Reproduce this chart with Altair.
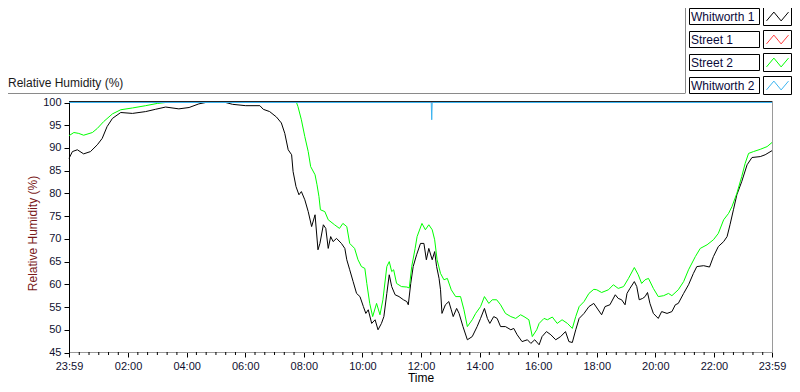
import altair as alt
import pandas as pd

# ---------------- data ----------------
series_names = ["Whitworth 1", "Street 1", "Street 2", "Whitworth 2"]
series_colors = ["#000000", "#ff3c3c", "#00ff00", "#3cb4f0"]

w1_times = ["23:59", "00:06", "00:16", "00:29", "00:43", "00:57", "01:07", "01:17", "01:28", "01:45",
            "02:09", "02:36", "02:56", "03:17", "03:44", "04:05", "04:25", "04:39", "05:20", "05:34",
            "06:01", "06:30", "06:37", "06:50", "07:04", "07:14", "07:21", "07:28", "07:35", "07:38",
            "07:44", "07:50", "07:55", "08:02", "08:09", "08:16", "08:23", "08:29", "08:33", "08:40",
            "08:45", "08:50", "08:55", "09:00", "09:07", "09:17", "09:24", "09:28", "09:34", "09:41",
            "09:48", "09:55", "10:02", "10:07", "10:12", "10:19", "10:26", "10:32", "10:39", "10:44",
            "10:50", "10:55", "11:00", "11:07", "11:15", "11:24", "11:31", "11:34", "11:39", "11:44",
            "11:51", "11:59", "12:06", "12:11", "12:16", "12:23", "12:28", "12:32", "12:37", "12:40",
            "12:43", "12:50", "12:57", "13:02", "13:06", "13:13", "13:18", "13:26", "13:35", "13:45",
            "13:55", "14:02", "14:10", "14:16", "14:21", "14:29", "14:36", "14:43", "14:53", "15:04",
            "15:10", "15:17", "15:27", "15:38", "15:45", "15:53", "16:02", "16:08", "16:17", "16:26",
            "16:36", "16:46", "16:56", "17:03", "17:10", "17:17", "17:24", "17:34", "17:44", "17:54",
            "18:10", "18:17", "18:27", "18:38", "18:44", "18:51", "18:58", "19:02", "19:08", "19:17",
            "19:22", "19:27", "19:34", "19:39", "19:44", "19:49", "19:56", "20:06", "20:13", "20:24",
            "20:34", "20:41", "20:47", "20:58", "21:08", "21:18", "21:25", "21:39", "21:51", "21:59",
            "22:09", "22:20", "22:27", "22:33", "22:40", "22:47", "22:57", "23:08", "23:18", "23:35",
            "23:45", "23:59"]
w1_values = [87.7, 89.2, 89.6, 88.7, 89.2, 90.7, 92.1, 94.7, 96.5, 97.8,
             97.6, 98.0, 98.5, 99.0, 98.6, 98.9, 99.7, 100, 100, 99.6,
             99.3, 99.3, 98.5, 98.0, 96.8, 95.5, 93.2, 89.6, 88.5, 84.8,
             81.5, 79.7, 80.4, 78.6, 76.0, 72.7, 75.3, 67.6, 69.0, 73.1,
             72.3, 67.9, 70.5, 69.4, 70.1, 69.0, 67.9, 65.4, 63.2, 60.6,
             58.0, 57.3, 55.1, 53.6, 54.4, 51.4, 52.2, 50.0, 51.4, 52.9,
             58.0, 62.1, 59.5, 57.7, 57.3, 56.6, 56.2, 55.5, 60.2, 63.9,
             66.5, 69.0, 69.0, 65.4, 67.9, 65.4, 67.2, 63.9, 61.3, 58.8,
             53.6, 55.5, 56.2, 54.4, 52.9, 54.7, 53.6, 50.7, 47.8, 48.5,
             50.7, 52.5, 54.7, 52.5, 51.4, 52.9, 52.5, 50.7, 50.7, 50.0,
             50.3, 48.9, 47.4, 47.8, 47.0, 47.8, 46.7, 48.5, 49.6, 48.9,
             47.8, 48.5, 49.6, 47.4, 47.2, 50.0, 52.5, 53.6, 55.1, 55.8,
             53.3, 55.1, 55.5, 57.7, 56.9, 56.6, 55.5, 58.0, 59.1, 60.6,
             59.5, 56.6, 56.9, 57.3, 58.2, 55.8, 53.6, 52.5, 54.0, 53.6,
             54.0, 55.5, 55.8, 58.0, 59.9, 62.4, 63.9, 64.1, 63.8, 66.1,
             68.3, 69.4, 70.5, 73.1, 76.4, 79.7, 82.6, 86.3, 87.9, 88.1,
             88.5, 89.4]

s1_times = ["23:59", "23:59"]
s1_values = [100, 100]

s2_times = ["23:59", "00:09", "00:19", "00:29", "00:47", "00:57", "01:10", "01:28", "01:45", "02:09",
            "02:36", "03:00", "03:17", "07:45", "07:48", "07:55", "08:02", "08:09", "08:14", "08:23",
            "08:27", "08:31", "08:34", "08:43", "08:50", "09:03", "09:13", "09:20", "09:28", "09:34",
            "09:44", "09:51", "09:58", "10:05", "10:09", "10:15", "10:21", "10:29", "10:36", "10:42",
            "10:50", "10:55", "11:00", "11:04", "11:10", "11:20", "11:31", "11:36", "11:41", "11:48",
            "11:52", "12:02", "12:09", "12:16", "12:23", "12:28", "12:33", "12:40", "12:47", "12:54",
            "13:02", "13:11", "13:21", "13:28", "13:35", "13:45", "13:52", "14:02", "14:10", "14:19",
            "14:26", "14:35", "14:43", "14:53", "15:04", "15:14", "15:24", "15:31", "15:41", "15:48",
            "15:57", "16:02", "16:12", "16:19", "16:29", "16:39", "16:49", "17:00", "17:10", "17:17",
            "17:24", "17:34", "17:44", "17:54", "18:00", "18:10", "18:24", "18:34", "18:44", "18:55",
            "19:05", "19:17", "19:25", "19:32", "19:39", "19:46", "19:56", "20:06", "20:17", "20:27",
            "20:34", "20:47", "20:58", "21:08", "21:22", "21:32", "21:46", "21:59", "22:09", "22:20",
            "22:30", "22:37", "22:47", "22:57", "23:04", "23:11", "23:21", "23:35", "23:49", "23:59"]
s2_values = [92.7, 93.4, 93.2, 92.8, 93.4, 94.3, 95.8, 97.5, 98.4, 98.8,
             99.3, 99.8, 100, 100, 99.1, 96.2, 92.5, 89.2, 85.9, 84.1,
             81.9, 79.3, 76.4, 76.0, 74.2, 73.1, 72.3, 73.4, 72.7, 69.0,
             67.9, 65.4, 63.9, 63.5, 60.2, 55.8, 52.9, 55.8, 53.3, 56.6,
             63.9, 65.0, 62.8, 63.2, 60.2, 59.5, 59.4, 59.2, 63.9, 67.9,
             70.5, 73.4, 72.0, 73.1, 72.0, 69.8, 65.4, 62.4, 61.0, 61.3,
             58.8, 57.3, 57.3, 54.4, 50.7, 52.2, 53.6, 55.1, 57.3, 55.8,
             56.6, 56.6, 55.5, 53.6, 52.9, 52.5, 53.3, 52.9, 52.2, 48.5,
             50.0, 51.4, 52.5, 52.2, 52.8, 51.4, 52.2, 51.4, 50.3, 52.9,
             55.1, 56.2, 58.0, 58.9, 58.8, 58.2, 58.8, 59.9, 59.1, 59.5,
             61.3, 63.7, 62.1, 60.2, 61.0, 61.3, 59.1, 57.3, 57.5, 58.0,
             57.5, 58.8, 60.6, 63.2, 66.1, 67.9, 68.7, 69.8, 71.2, 74.2,
             75.6, 77.1, 80.0, 83.7, 86.6, 88.8, 89.2, 89.7, 90.3, 91.2]

w2_times = ["23:59", "12:21", "12:22", "12:23", "23:59"]
w2_values = [100, 100, 96.2, 100, 100]

y_ticks = [45, 50, 55, 60, 65, 70, 75, 80, 85, 90, 95, 100]
x_tick_labels = ["23:59", "02:00", "04:00", "06:00", "08:00", "10:00", "12:00",
                 "14:00", "16:00", "18:00", "20:00", "22:00", "23:59"]


def to_minutes(times):
    """minutes elapsed since the starting 23:59"""
    out = []
    for i, t in enumerate(times):
        h, m = map(int, t.split(":"))
        v = (h * 60 + m - (23 * 60 + 59)) % 1440
        if i > 0 and v == 0:
            v = 1440
        out.append(v)
    return out


# ---------------- layout constants ----------------
W, H = 703, 250
FONT = "Liberation Sans"
LABEL_COL = "#101030"

x_major = to_minutes(x_tick_labels)
x_minor = [1 + 20 * k for k in range(1, 72) if k % 6 != 0]

x_axis = alt.Axis(values=x_major,
                  labelExpr="timeFormat(datetime(2000, 0, 1, 23, 59 + datum.value), '%H:%M')",
                  tickSize=5, tickColor="#000000", domainColor="#9a9a9a",
                  labelFont=FONT, labelFontSize=11, labelColor=LABEL_COL, labelPadding=3,
                  labelOverlap=False, labelFlush=False, grid=False,
                  title="Time", titleFont=FONT, titleFontSize=12, titleFontWeight="normal",
                  titleColor="#000000", titleY=32, titleBaseline="bottom")
y_axis = alt.Axis(values=y_ticks, tickSize=5, tickColor="#000000", domainColor="#000000",
                  labelFont=FONT, labelFontSize=11, labelColor=LABEL_COL, labelPadding=3,
                  grid=False,
                  title="Relative Humidity (%)", titleFont=FONT, titleFontSize=12,
                  titleFontWeight="normal", titleColor="#7a1a1a", titleX=-37, titleY=131,
                  titleAlign="center", titleBaseline="middle", titleAngle=270)

x_enc = alt.X("minute:Q", scale=alt.Scale(domain=[0, 1440], nice=False, zero=False), axis=x_axis)
y_enc = alt.Y("rh:Q", scale=alt.Scale(domain=[45, 100], nice=False, zero=False,
                                      range=[H + 0.5, 0.5]), axis=y_axis)

layers = []

# frame lines
one = pd.DataFrame({"k": [0]})
layers.append(alt.Chart(one).mark_rule(color="#222222", strokeWidth=1).encode(
    x=alt.value(0), x2=alt.value(W), y=alt.value(-0.5)))
layers.append(alt.Chart(one).mark_rule(color="#9a9a9a", strokeWidth=1).encode(
    x=alt.value(W + 0.5), y=alt.value(-1), y2=alt.value(H)))
layers.append(alt.Chart(one).mark_rule(color="#8a8a8a", strokeWidth=1).encode(
    x=alt.value(-61), x2=alt.value(616), y=alt.value(-8.5)))
layers.append(alt.Chart(one).mark_rule(color="#8a8a8a", strokeWidth=1).encode(
    x=alt.value(616.5), y=alt.value(-94), y2=alt.value(-8.5)))

# minor x ticks
minor_df = pd.DataFrame({"minute": x_minor})
layers.append(alt.Chart(minor_df).mark_rule(color="#000000", strokeWidth=1).encode(
    x=x_enc, y=alt.value(H), y2=alt.value(H + 3)))

# series (draw order like LabVIEW: later on top)
series_data = {
    "Whitworth 1": (w1_times, w1_values),
    "Street 1": (s1_times, s1_values),
    "Street 2": (s2_times, s2_values),
    "Whitworth 2": (w2_times, w2_values),
}
color_of = dict(zip(series_names, series_colors))
for name in ["Street 1", "Whitworth 1", "Street 2", "Whitworth 2"]:
    tt, vv = series_data[name]
    df = pd.DataFrame({"minute": to_minutes(tt), "rh": vv, "series": name})
    layers.append(alt.Chart(df).mark_line(color=color_of[name], strokeWidth=1,
                                          interpolate="linear").encode(x=x_enc, y=y_enc))

# top-left title
layers.append(alt.Chart(one).mark_text(align="left", baseline="alphabetic", font=FONT,
                                       fontSize=12, color="#1a1a1a").encode(
    x=alt.value(-61), y=alt.value(-15), text=alt.value("Relative Humidity (%)")))

# legend (LabVIEW style plot legend)
zig = "M-1,0.4L-0.33,-0.4L0.33,0.4L1,-0.4"
for i, name in enumerate(series_names):
    top = -93.5 + 23 * i
    d = pd.DataFrame({"name": [name]})
    layers.append(alt.Chart(d).mark_rect(fill="#ffffff", stroke="#000000", strokeWidth=1).encode(
        x=alt.value(620.5), x2=alt.value(690.5), y=alt.value(top), y2=alt.value(top + 16)))
    layers.append(alt.Chart(d).mark_rect(fill="#ffffff", stroke="#000000", strokeWidth=1).encode(
        x=alt.value(694.5), x2=alt.value(722.5), y=alt.value(top - 1), y2=alt.value(top + 17)))
    layers.append(alt.Chart(d).mark_text(align="left", baseline="alphabetic", font=FONT,
                                         fontSize=12, color="#0a0a3a").encode(
        x=alt.value(622), y=alt.value(top + 12.5), text="name:N"))
    layers.append(alt.Chart(d).mark_point(shape=zig, filled=False, size=484, strokeWidth=1,
                                          color=series_colors[i], opacity=1).encode(
        x=alt.value(708.5), y=alt.value(top + 8)))

chart = alt.layer(*layers).properties(
    width=W, height=H,
    padding={"left": 61, "top": 94, "right": 20, "bottom": 32},
    autosize=alt.AutoSizeParams(type="none"),
    background="#ffffff",
).configure_view(strokeWidth=0)

chart.save("out.html", embed_options={"renderer": "svg", "actions": False})
